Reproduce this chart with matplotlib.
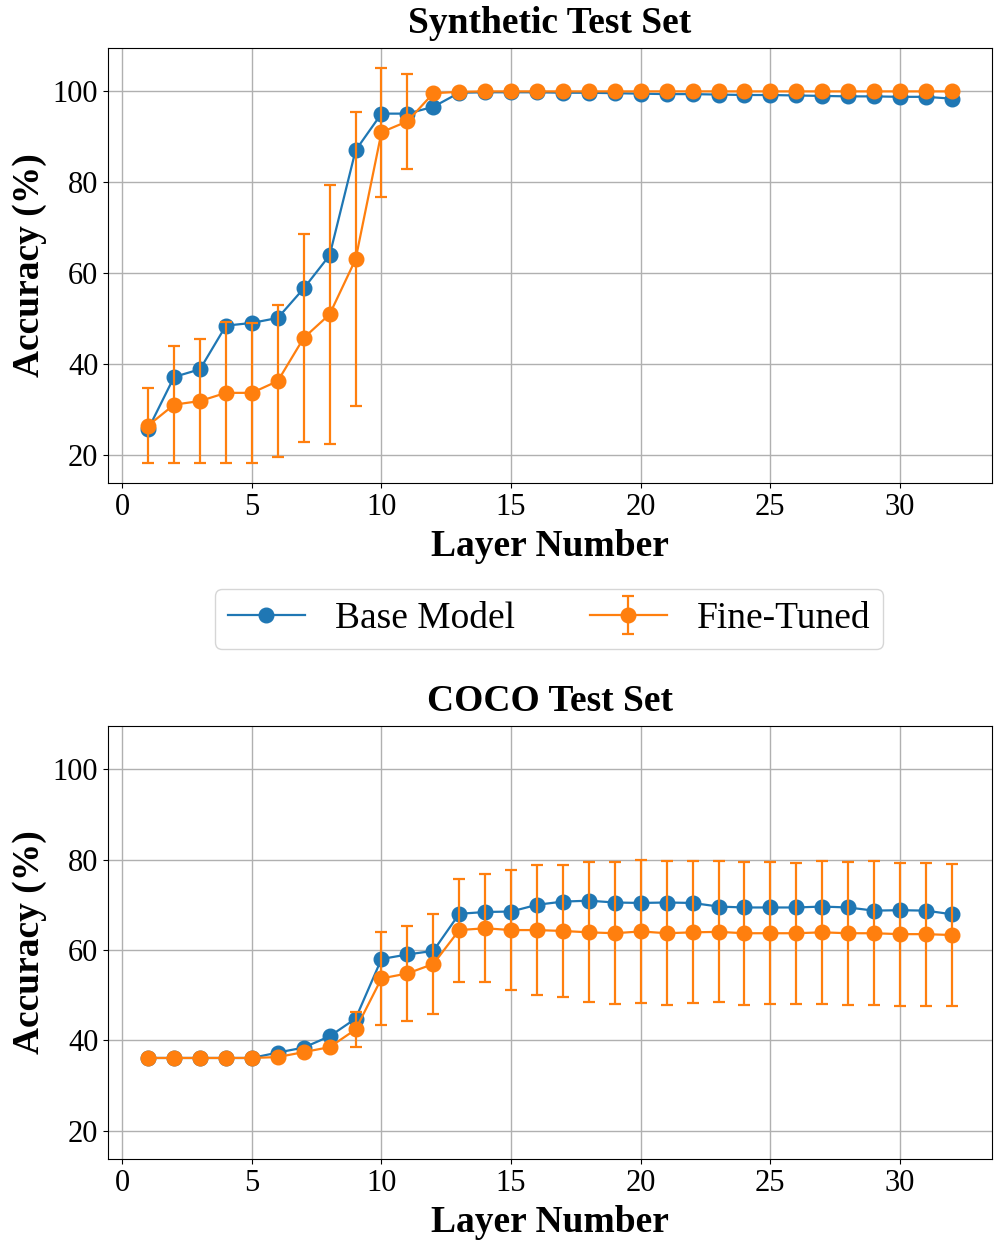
import matplotlib
matplotlib.use("Agg")
import matplotlib.pyplot as plt
import numpy as np

plt.rcParams['font.family'] = ['Liberation Serif', 'DejaVu Serif']
plt.rcParams['mathtext.fontset'] = 'stix'

layers = list(range(1, 33))

syn_base = [25.6, 37.1, 38.8, 48.4, 49.0, 50.1, 56.6, 63.9, 87.0, 95.1, 95.1, 96.6,
            99.7, 99.8, 99.8, 99.8, 99.7, 99.7, 99.6, 99.5, 99.4, 99.4, 99.3, 99.2,
            99.2, 99.1, 99.0, 98.9, 98.9, 98.8, 98.8, 98.4]
syn_ft = [26.4, 31.0, 31.8, 33.6, 33.6, 36.2, 45.7, 50.9, 63.0, 91.0, 93.4, 99.6,
          99.9, 100.0, 100.0, 100.0, 100.0, 100.0, 100.0, 100.0, 100.0, 100.0, 100.0, 100.0,
          100.0, 100.0, 100.0, 100.0, 100.0, 100.0, 100.0, 100.0]
syn_ft_err = [8.2, 12.85, 13.6, 15.5, 15.4, 16.7, 22.9, 28.5, 32.4, 14.2, 10.4, 0.3,
              0.1, 0.0, 0.0, 0.0, 0.0, 0.0, 0.0, 0.0, 0.0, 0.0, 0.0, 0.0,
              0.0, 0.0, 0.0, 0.0, 0.0, 0.0, 0.0, 0.0]

coco_base = [36.1, 36.1, 36.1, 36.1, 36.1, 37.3, 38.4, 40.9, 44.8, 58.0, 59.0, 59.8,
             68.0, 68.4, 68.5, 70.0, 70.7, 70.9, 70.5, 70.4, 70.5, 70.4, 69.6, 69.4,
             69.4, 69.4, 69.6, 69.4, 68.7, 68.8, 68.7, 67.9]
coco_ft = [36.1, 36.1, 36.1, 36.1, 36.1, 36.3, 37.4, 38.5, 42.4, 53.7, 54.8, 56.9,
           64.4, 64.8, 64.4, 64.4, 64.2, 63.9, 63.7, 64.1, 63.7, 63.9, 64.0, 63.7,
           63.7, 63.7, 63.9, 63.7, 63.7, 63.5, 63.5, 63.3]
coco_ft_err = [0.0, 0.0, 0.0, 0.0, 0.0, 0.0, 0.0, 0.0, 3.9, 10.2, 10.6, 11.0,
               11.4, 11.9, 13.3, 14.4, 14.7, 15.5, 15.7, 15.8, 15.9, 15.7, 15.6, 15.8,
               15.7, 15.6, 15.8, 15.8, 15.9, 15.8, 15.8, 15.8]

titles = ["Synthetic Test Set", "COCO Test Set"]
xticks = [0, 5, 10, 15, 20, 25, 30]
yticks = [20, 40, 60, 80, 100]

fig = plt.figure(figsize=(9.97, 12.46), dpi=100)
W, H = 997, 1246
ax1 = fig.add_axes([108 / W, 1 - 483 / H, (992 - 108) / W, (483 - 48) / H])
ax2 = fig.add_axes([108 / W, 1 - 1159 / H, (992 - 108) / W, (1159 - 726) / H], sharey=ax1)

blue = '#1f77b4'
orange = '#ff7f0e'

datasets = [(syn_base, syn_ft, syn_ft_err), (coco_base, coco_ft, coco_ft_err)]
handles = None
for ax, title, (b, f, e) in zip([ax1, ax2], titles, datasets):
    hb, = ax.plot(layers, b, '-o', color=blue, markersize=10.5, linewidth=1.6, label='Base Model')
    hf = ax.errorbar(layers, f, yerr=e, fmt='-o', color=orange, markersize=10.5, linewidth=1.6,
                     elinewidth=1.6, capsize=4, capthick=1.6, label='Fine-Tuned')
    ax.set_title(title, fontsize=27, fontweight='bold', pad=11)
    ax.set_xlabel('Layer Number', fontsize=27, fontweight='bold', labelpad=5)
    ax.set_ylabel('Accuracy (%)', fontsize=27, fontweight='bold', labelpad=4)
    ax.set_xticks(xticks)
    ax.set_yticks(yticks)
    ax.tick_params(labelsize=22)
    ax.grid(True, color='#b0b0b0', linewidth=1.0)
    ax.set_axisbelow(True)
    handles = [hb, hf]

fig.legend(handles, ['Base Model', 'Fine-Tuned'], loc='center', bbox_to_anchor=(549 / W, 1 - 619 / H),
           ncol=2, fontsize=27, frameon=True, handlelength=2.05, columnspacing=2.0,
           handletextpad=0.8, borderpad=0.35)

fig.savefig('out.png', dpi=100)
